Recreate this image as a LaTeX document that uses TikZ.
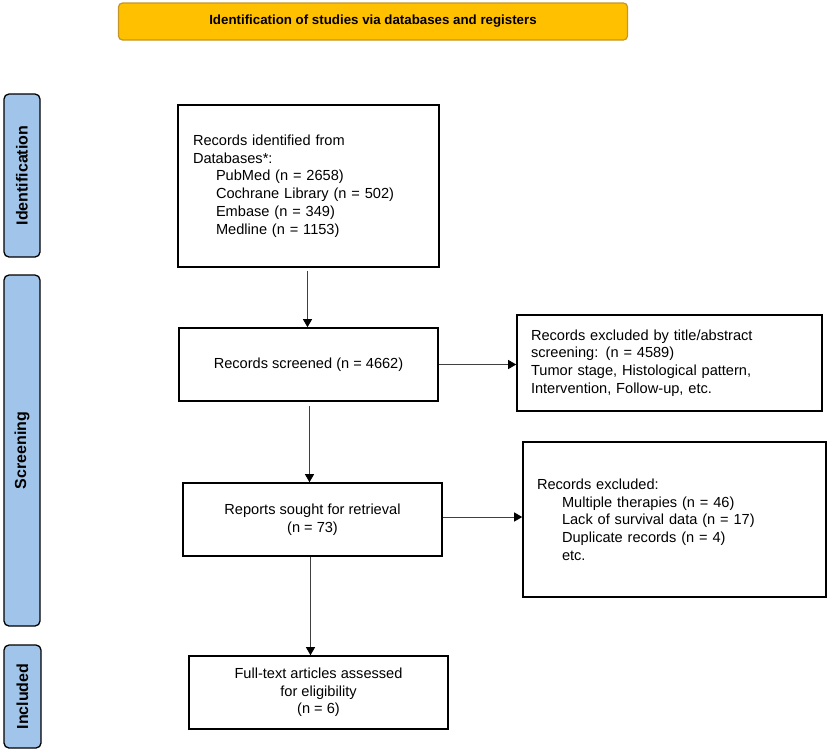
\documentclass[tikz,border=0pt]{standalone}
\usepackage{fontspec}
\setmainfont{Liberation Sans}
\usepackage{tikz}
\usetikzlibrary{arrows.meta,calc}
\definecolor{phase}{RGB}{161,197,234}
\definecolor{banner}{RGB}{255,192,0}
\definecolor{bannerline}{RGB}{196,150,40}
\tikzset{
  box/.style={draw=black,line width=1.6pt,inner sep=0pt,font=\fontsize{14.6}{17.7}\selectfont},
  phasebar/.style={draw=black,line width=1.3pt,fill=phase,rounded corners=5pt,inner sep=0pt,
    font=\bfseries\fontsize{16}{18}\selectfont},
  arr/.style={draw=black!75,line width=0.9pt,-{Triangle[length=8pt,width=9pt,color=black]}},
}
\begin{document}
\begin{tikzpicture}[x=1pt,y=-1pt]
\useasboundingbox (0,0) rectangle (829,753);
% header
\node[draw=bannerline,line width=1.2pt,fill=banner,rounded corners=4pt,minimum width=509pt,minimum height=37pt,
  font=\bfseries\fontsize{13.3}{15}\selectfont] (header) at (373,21.5) {Identification of studies via databases and registers};
% phases
\node[phasebar,minimum width=36pt,minimum height=163pt] (ident) at (22,175.5) {\rotatebox{90}{Identification}};
\node[phasebar,minimum width=36pt,minimum height=351pt] (screen) at (22,450.5) {\rotatebox{90}{Screening}};
\node[phasebar,minimum width=37pt,minimum height=103pt] (incl) at (22.5,696.5) {\rotatebox{90}{Included}};
% boxes
\node[box,minimum width=261pt,minimum height=162pt,text width=231pt,align=left] (records) at (308.5,186)
  {Records identified from\\Databases*:\\
   \hspace*{23pt}PubMed (n = 2658)\\
   \hspace*{23pt}Cochrane Library (n = 502)\\
   \hspace*{23pt}Embase (n = 349)\\
   \hspace*{23pt}Medline (n = 1153)};
\node[box,minimum width=259pt,minimum height=73pt,align=center] (screened) at (308.5,364.5)
  {Records screened (n = 4662)};
\node[box,minimum width=259pt,minimum height=73pt,align=center] (sought) at (312.5,519.5)
  {Reports sought for retrieval\\(n = 73)};
\node[box,minimum width=259pt,minimum height=73pt,align=center] (fulltext) at (318.5,692.5)
  {Full-text articles assessed\\for eligibility\\(n = 6)};
\node[box,minimum width=305pt,minimum height=96pt,text width=277pt,align=left] (excl1) at (669.5,363)
  {Records excluded by title/abstract\\screening: (n = 4589)\\Tumor stage, Histological pattern,\\Intervention, Follow-up, etc.};
\node[box,minimum width=303pt,minimum height=155pt,text width=275pt,align=left] (excl2) at (674.5,519.5)
  {Records excluded:\\
   \hspace*{25pt}Multiple therapies (n = 46)\\
   \hspace*{25pt}Lack of survival data (n = 17)\\
   \hspace*{25pt}Duplicate records (n = 4)\\
   \hspace*{25pt}etc.};
% arrows
\draw[arr,shorten <=3pt] ([xshift=-1pt]records.south) -- ([xshift=-1pt]records.south |- screened.north);
\draw[arr,shorten <=4pt] ([xshift=1pt]screened.south) -- ([xshift=1pt]screened.south |- sought.north);
\draw[arr] ([xshift=-2pt]sought.south) -- ([xshift=-2pt]sought.south |- fulltext.north);
\draw[arr] (screened.east) -- (screened.east -| excl1.west);
\draw[arr] ([yshift=2.5pt]sought.east) -- ([yshift=2.5pt]sought.east -| excl2.west);
\end{tikzpicture}
\end{document}
